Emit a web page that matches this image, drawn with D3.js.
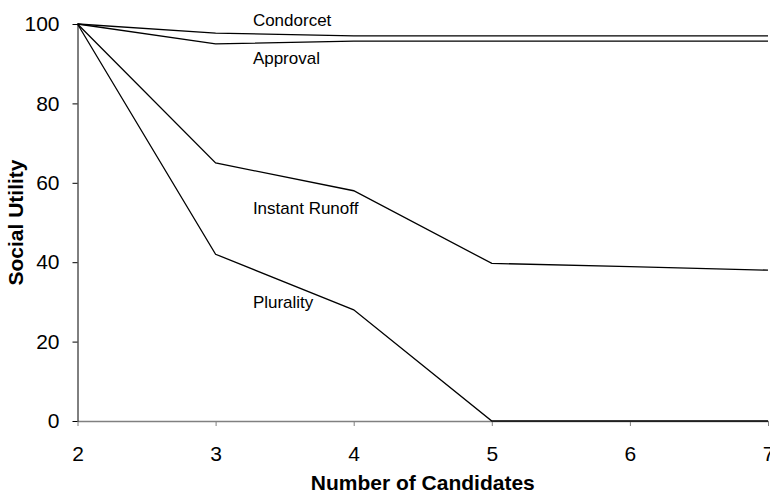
<!DOCTYPE html>
<html>
<head>
<meta charset="utf-8">
<script src="https://cdn.jsdelivr.net/npm/d3@7"></script>
<style>
  body { margin: 0; background: #fff; }
  text { font-family: Arial, "Liberation Sans", sans-serif; }
</style>
</head>
<body>
<div id="chart"></div>
<script>
// data
let candidates = [2, 3, 4, 5, 6, 7];
let condorcet = [100, 97.7, 97, 97, 97, 97];
let approval = [100, 95, 95.7, 95.7, 95.7, 95.7];
let instantRunoff = [100, 65, 58, 39.7, 38.9, 38];
let plurality = [100, 42, 28, 0, 0, 0];
let yTicks = [0, 20, 40, 60, 80, 100];

let seriesNames = ["Condorcet", "Approval", "Instant Runoff", "Plurality"];
let seriesValues = [condorcet, approval, instantRunoff, plurality];
// where each label sits, in data units (x, y)
let labelPos = [[3.27, 101], [3.27, 91.4], [3.27, 53.6], [3.27, 30]];

let width = 770, height = 493;
let margin = { left: 77.5, right: 2, top: 24, bottom: 72 };

let svg = d3.select("#chart").append("svg")
  .attr("width", width)
  .attr("height", height);

let x = d3.scaleLinear().domain([2, 7]).range([margin.left, width - margin.right]);
let y = d3.scaleLinear().domain([0, 100]).range([height - margin.bottom, margin.top]);

// x axis (grey)
let xAxis = svg.append("g")
  .attr("transform", `translate(0,${y(0)})`)
  .call(d3.axisBottom(x).tickValues(candidates).tickSize(5).tickSizeOuter(0).tickPadding(20).tickFormat(d3.format("d")));
xAxis.select(".domain").attr("stroke", "#808080").attr("stroke-width", 1.5);
xAxis.selectAll(".tick line").attr("stroke", "#808080");
xAxis.selectAll("text").attr("font-size", 21).attr("fill", "#000");

// y axis (black)
let yAxis = svg.append("g")
  .attr("transform", `translate(${x(2)},0)`)
  .call(d3.axisLeft(y).tickValues(yTicks).tickSize(5).tickSizeOuter(0).tickPadding(13));
yAxis.select(".domain").attr("stroke", "#000");
yAxis.selectAll("text").attr("font-size", 21).attr("fill", "#000");

// lines
let line = d3.line()
  .x((d, i) => x(candidates[i]))
  .y(d => y(d));

svg.append("g").selectAll("path")
  .data(seriesValues)
  .enter()
  .append("path")
  .attr("d", line)
  .attr("fill", "none")
  .attr("stroke", "#000")
  .attr("stroke-width", 1.3);

// series labels
svg.append("g").selectAll("text")
  .data(seriesNames)
  .enter()
  .append("text")
  .attr("x", (d, i) => x(labelPos[i][0]))
  .attr("y", (d, i) => y(labelPos[i][1]))
  .attr("dy", "0.35em")
  .attr("font-size", 17)
  .text(d => d);

// axis titles
svg.append("text")
  .attr("x", (x(2) + x(7)) / 2)
  .attr("y", 483)
  .attr("dy", "0.35em")
  .attr("text-anchor", "middle")
  .attr("font-size", 21)
  .attr("font-weight", "bold")
  .text("Number of Candidates");

svg.append("text")
  .attr("transform", `translate(16,${(y(0) + y(100)) / 2}) rotate(-90)`)
  .attr("dy", "0.35em")
  .attr("text-anchor", "middle")
  .attr("font-size", 21)
  .attr("font-weight", "bold")
  .text("Social Utility");
</script>
</body>
</html>
